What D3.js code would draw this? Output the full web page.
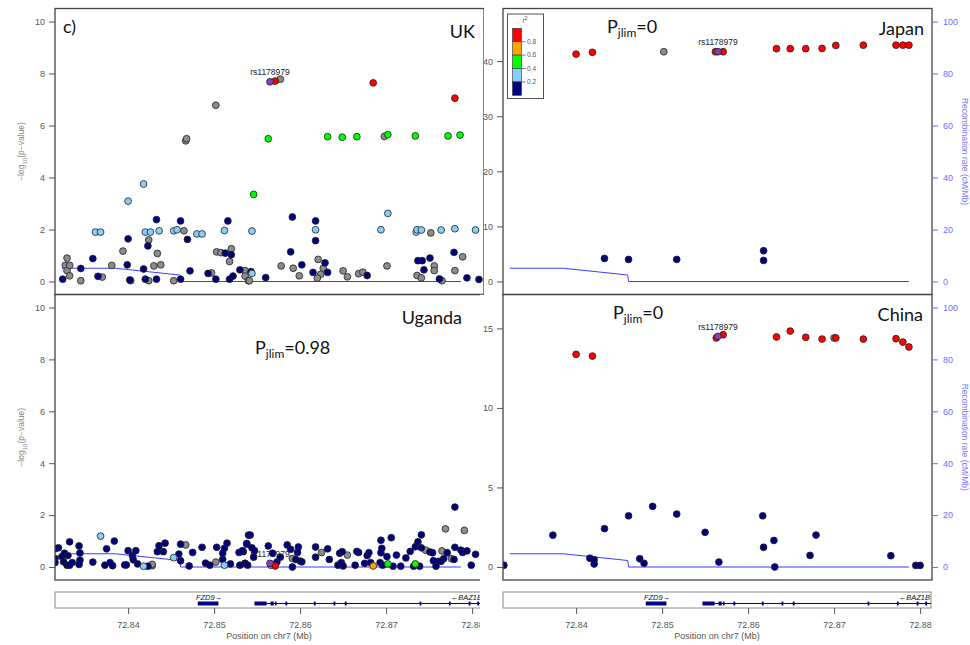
<!DOCTYPE html>
<html>
<head>
<meta charset="utf-8">
<script src="https://cdn.jsdelivr.net/npm/d3@7"></script>
<style>
  body { margin: 0; background: #fff; }
  svg { display: block; }
  text { font-family: "Liberation Sans", Arial, sans-serif; }
  .big { font-family: Lato, "Open Sans", sans-serif; }
</style>
</head>
<body>
<svg width="970" height="645"></svg>
<script>
// x range shown (Mb on chr7) and axis ticks
const xDomain = [72.8315, 72.8815];
const xTicks = [72.84, 72.85, 72.86, 72.87, 72.88];

// LD colour classes (r2)
const r2Breaks = [0.2, 0.4, 0.6, 0.8];
const r2Colors = ["#000080", "#87CEFA", "#00FF00", "#FFA500", "#FF0000"];
const r2Labels = ["0.2", "0.4", "0.6", "0.8"];
const noLdColor = "#8c8c8c";
const indexColor = "#7f3fbf";

// index SNP
const indexName = "rs1178979";
const indexPos = 72.8565;

// panel names and Pjlim values
const panelNames = ["UK", "Japan", "Uganda", "China"];
const pjlimValues = [null, "0", "0.98", "0"];
const indexLogP = [7.68, 41.7, 0.14, 14.5];

// SNPs: [position (Mb), -log10 p, r2 (null = no LD info)]
const ukSnps = [
  [72.8324,0.09,0.1],[72.8329,0.90,null],[72.8327,0.62,null],[72.8329,0.42,null],[72.8332,0.62,null],
  [72.8332,0.22,null],[72.8345,0.50,0.1],[72.8345,0.03,null],[72.8359,0.88,0.1],[72.8362,1.90,0.3],
  [72.8368,1.90,0.3],[72.8365,0.20,0.1],[72.8370,0.17,null],[72.8381,0.62,null],[72.8394,1.17,null],
  [72.8400,3.09,0.3],[72.8400,1.64,0.1],[72.8399,0.64,0.1],[72.8402,0.06,0.1],[72.8403,0.03,null],
  [72.8418,3.75,0.3],[72.8420,1.90,0.3],[72.8426,1.90,0.3],[72.8424,1.60,null],[72.8423,1.37,0.1],
  [72.8418,0.48,0.1],[72.8420,0.09,0.1],[72.8424,0.03,null],[72.8433,2.38,0.1],[72.8436,1.95,0.3],
  [72.8434,1.08,null],[72.8430,0.60,null],[72.8438,0.64,null],[72.8433,0.09,0.1],[72.8453,0.03,null],
  [72.8453,1.95,0.3],[72.8457,1.99,0.3],[72.8467,5.41,null],[72.8468,5.49,null],[72.8461,2.33,0.1],
  [72.8465,1.95,null],[72.8469,1.62,0.1],[72.8461,0.09,0.1],[72.8472,0.41,0.1],[72.8480,1.83,0.3],
  [72.8486,1.83,0.3],[72.8502,6.78,null],[72.8503,1.14,null],[72.8508,1.11,null],[72.8513,1.09,0.1],
  [72.8520,1.03,0.1],[72.8516,2.33,0.1],[72.8512,1.96,0.3],[72.8520,1.26,null],[72.8518,0.77,null],
  [72.8493,0.31,0.1],[72.8497,0.33,null],[72.8502,0.09,0.1],[72.8518,0.09,0.1],[72.8522,0.21,0.1],
  [72.8530,0.45,0.1],[72.8536,0.42,null],[72.8536,0.21,null],[72.8540,0.03,null],
  [72.8571,7.71,0.9],[72.8577,7.78,null],[72.8685,7.64,0.9],[72.8780,7.05,0.9],[72.8563,5.49,0.5],
  [72.8632,5.57,0.5],[72.8649,5.55,0.5],[72.8666,5.57,0.5],[72.8698,5.58,null],[72.8702,5.65,0.5],
  [72.8734,5.60,0.5],[72.8772,5.60,0.5],[72.8786,5.63,0.5],[72.8546,3.35,0.5],[72.8544,1.94,0.3],
  [72.8591,2.48,0.1],[72.8618,2.33,0.1],[72.8618,1.99,0.3],[72.8618,1.57,0.1],[72.8702,2.62,0.3],
  [72.8694,1.99,0.3],[72.8735,1.90,0.3],[72.8736,1.99,0.3],[72.8741,1.98,0.3],[72.8752,1.87,null],
  [72.8764,1.98,0.3],[72.8780,2.03,0.3],[72.8804,1.98,0.3],[72.8589,1.14,0.1],[72.8779,1.12,0.1],
  [72.8789,0.95,null],[72.8578,0.60,null],[72.8592,0.51,null],[72.8602,0.64,0.1],[72.8599,0.22,null],
  [72.8560,0.15,0.1],[72.8543,0.38,0.1],[72.8544,0.31,0.3],[72.8541,0.03,null],[72.8621,0.85,null],
  [72.8629,0.72,0.1],[72.8627,0.51,null],[72.8624,0.28,null],[72.8620,0.13,null],[72.8615,0.35,0.1],
  [72.8632,0.35,0.1],[72.8650,0.41,null],[72.8655,0.18,null],[72.8668,0.30,null],[72.8673,0.36,null],
  [72.8678,0.23,0.1],[72.8701,0.60,null],[72.8737,0.80,0.1],[72.8742,0.80,0.1],[72.8751,0.90,0.1],
  [72.8744,0.45,0.1],[72.8736,0.23,null],[72.8741,0.14,null],[72.8756,0.60,null],[72.8756,0.42,null],
  [72.8762,0.10,0.1],[72.8765,0.03,null],[72.8780,0.42,null],[72.8794,0.14,0.1],[72.8808,0.08,0.1]
];

const japanSnps = [
  [72.8400,41.27,0.9],[72.8419,41.6,0.9],[72.8502,41.7,null],[72.8562,41.7,0.9],[72.8571,41.7,0.9],
  [72.8433,4.18,0.1],[72.8461,4.0,0.1],[72.8517,4.0,0.1],[72.8633,42.25,0.9],[72.8649,42.25,0.9],
  [72.8667,42.25,0.9],[72.8686,42.3,0.9],[72.8702,42.85,0.9],[72.8734,42.9,0.9],[72.8772,42.9,0.9],
  [72.8780,42.9,0.9],[72.8787,42.9,0.9],[72.8618,5.58,0.1],[72.8618,3.82,0.1]
];

const ugandaSnps = [
  [72.8315,0.70,0.1],[72.8319,0.74,0.1],[72.8315,0.33,0.1],[72.8315,0.17,0.1],[72.8323,0.40,0.1],
  [72.8326,0.53,0.1],[72.8330,0.44,0.1],[72.8332,0.97,0.1],[72.8325,0.20,0.1],[72.8329,0.07,0.1],
  [72.8332,0.07,0.1],[72.8335,0.17,0.1],[72.8343,0.81,0.1],[72.8344,0.54,0.1],[72.8344,0.26,0.1],
  [72.8343,0.10,0.1],[72.8359,0.19,0.1],[72.8368,1.19,0.3],[72.8375,0.70,0.1],[72.8373,0.07,0.1],
  [72.8379,0.17,0.1],[72.8382,0.05,0.1],[72.8384,1.00,0.1],[72.8396,0.08,0.1],[72.8398,0.08,0.1],
  [72.8400,0.63,0.1],[72.8405,0.44,0.1],[72.8406,0.28,0.1],[72.8409,0.63,0.1],[72.8411,0.12,0.1],
  [72.8418,0.03,0.3],[72.8423,0.03,0.1],[72.8428,0.05,null],[72.8428,0.10,null],[72.8434,0.59,0.1],
  [72.8436,0.82,0.1],[72.8441,0.59,0.1],[72.8443,0.92,0.1],[72.8453,0.36,0.3],[72.8459,0.50,0.1],
  [72.8461,0.88,0.1],[72.8461,0.24,0.1],[72.8467,0.85,null],[72.8471,0.04,0.1],[72.8475,0.56,0.1],
  [72.8486,0.76,0.1],[72.8490,0.15,0.1],[72.8495,0.07,0.1],[72.8502,0.19,null],[72.8503,0.76,0.1],
  [72.8510,0.29,0.1],[72.8512,0.72,0.1],[72.8515,0.92,0.1],[72.8510,0.53,0.1],[72.8512,0.07,0.3],
  [72.8519,0.12,0.1],[72.8529,0.56,0.1],[72.8534,0.59,0.1],[72.8530,0.07,0.1],[72.8536,0.14,0.1],
  [72.8540,1.23,0.1],[72.8538,0.91,0.1],[72.8533,0.63,0.1],[72.8538,0.88,0.1],[72.8542,1.23,0.1],
  [72.8544,0.74,0.1],[72.8547,0.63,0.1],[72.8546,0.38,0.1],[72.8536,0.14,0.1],[72.8539,0.07,0.1],
  [72.8566,0.07,null],[72.8571,0.04,0.9],[72.8573,0.19,0.1],[72.8563,0.81,0.1],[72.8568,0.53,0.1],
  [72.8577,0.38,0.1],[72.8585,0.85,0.1],[72.8589,0.68,0.1],[72.8591,0.33,null],[72.8591,0.00,0.1],
  [72.8595,0.29,0.1],[72.8598,0.77,0.1],[72.8597,0.56,0.1],[72.8600,0.23,0.1],[72.8602,0.20,0.1],
  [72.8618,0.38,0.1],[72.8618,0.77,0.1],[72.8625,0.56,null],[72.8632,0.70,0.1],[72.8634,0.29,0.1],
  [72.8644,0.07,0.1],[72.8646,0.53,0.1],[72.8649,0.59,0.1],[72.8648,0.17,0.1],[72.8650,0.04,0.1],
  [72.8655,0.46,null],[72.8664,0.07,0.1],[72.8666,0.60,0.1],[72.8668,0.56,0.1],[72.8675,0.14,0.1],
  [72.8678,0.44,0.1],[72.8680,0.55,0.1],[72.8682,0.17,0.1],[72.8685,0.04,0.7],[72.8694,1.03,0.1],
  [72.8695,0.72,0.1],[72.8694,0.55,0.1],[72.8693,0.17,0.1],[72.8696,0.07,0.1],[72.8701,0.40,0.1],
  [72.8702,0.12,0.5],[72.8706,1.13,0.1],[72.8708,0.03,0.1],[72.8712,0.46,0.1],[72.8717,0.03,0.1],
  [72.8723,0.35,0.1],[72.8728,0.60,0.1],[72.8734,0.78,0.1],[72.8737,0.97,0.1],[72.8741,1.24,0.1],
  [72.8741,0.74,0.1],[72.8746,0.65,null],[72.8751,0.58,0.1],[72.8754,0.55,0.1],[72.8755,0.24,0.1],
  [72.8732,0.03,0.1],[72.8734,0.12,0.5],[72.8739,0.03,0.1],[72.8758,0.03,0.1],[72.8761,0.22,0.1],
  [72.8765,0.62,null],[72.8769,1.47,null],[72.8771,0.55,0.1],[72.8767,0.32,0.1],[72.8764,0.22,0.1],
  [72.8776,0.32,null],[72.8779,0.29,0.1],[72.8780,2.31,0.1],[72.8780,0.76,0.1],[72.8787,0.65,0.1],
  [72.8791,1.41,null],[72.8789,0.56,0.1],[72.8794,0.62,0.1],[72.8799,0.07,0.1],[72.8804,0.49,0.1]
];

const chinaSnps = [
  [72.8316,0.11,0.1],[72.8373,2.00,0.1],[72.8400,13.37,0.9],[72.8419,13.26,0.9],[72.8416,0.55,0.1],
  [72.8421,0.46,0.1],[72.8421,0.19,0.1],[72.8433,2.41,0.1],[72.8461,3.22,0.1],[72.8474,0.52,0.1],
  [72.8479,0.23,0.1],[72.8489,3.81,0.1],[72.8517,3.33,0.1],[72.8550,2.18,0.1],[72.8566,0.31,0.1],
  [72.8563,14.4,0.9],[72.8571,14.6,0.9],[72.8633,14.46,0.9],[72.8649,14.83,0.9],[72.8667,14.44,0.9],
  [72.8686,14.33,0.9],[72.8700,14.4,null],[72.8702,14.4,0.9],[72.8734,14.33,0.9],[72.8772,14.35,0.9],
  [72.8780,14.14,0.9],[72.8787,13.83,0.9],[72.8617,3.22,0.1],[72.8618,1.24,0.1],[72.8630,1.67,0.1],
  [72.8631,0.00,0.1],[72.8672,0.73,0.1],[72.8679,2.01,0.1],[72.8766,0.71,0.1],[72.8795,0.10,0.1],
  [72.8800,0.10,0.1]
];

// recombination rate (cM/Mb)
const recombPos = [72.8323, 72.8385, 72.8460, 72.8461, 72.8787];
const recombRate = [5.1, 5.1, 2.5, 0, 0];
const recombTicks = [0, 20, 40, 60, 80, 100];

// genes
const geneNames = ["FZD9", "BAZ1B"];
const geneStart = [72.8481, 72.8547];
const geneEnd = [72.8505, 72.8840];
const geneStrand = ["+", "-"];
const baz1bExons = [
  [72.8547, 72.8561], [72.85656, 72.85693], [72.85708, 72.85726], [72.8583, 72.8585],
  [72.8616, 72.8618], [72.8639, 72.8641], [72.8652, 72.8654], [72.8739, 72.8741],
  [72.8773, 72.8775], [72.8796, 72.8798], [72.8806, 72.8808]
];

const svg = d3.select("svg");
const defs = svg.append("defs");
const grey = "#555";

const ldColor = d3.scaleThreshold().domain(r2Breaks).range(r2Colors);

// the left half of the figure is cut off where the right half starts
const leftCut = defs.append("clipPath").attr("id", "leftCut");
leftCut.append("rect").attr("x", 0).attr("y", 0).attr("width", 484).attr("height", 294.5);
leftCut.append("rect").attr("x", 0).attr("y", 294.5).attr("width", 480).attr("height", 351);

const leftG = svg.append("g").attr("clip-path", "url(#leftCut)");
const rightG = svg.append("g");

const panels = [
  { snps: ukSnps, x0: 55, top: 8.5, bottom: 294.5, side: "left", yTicks: [0, 2, 4, 6, 8, 10], title: [475, 38], pj: null },
  { snps: japanSnps, x0: 503, top: 8.5, bottom: 294.5, side: "right", yTicks: [0, 10, 20, 30, 40], title: [924, 35], pj: [607, 33] },
  { snps: ugandaSnps, x0: 55, top: 294.5, bottom: 580, side: "left", yTicks: [0, 2, 4, 6, 8, 10], title: [462, 324], pj: [255, 354] },
  { snps: chinaSnps, x0: 503, top: 294.5, bottom: 580, side: "right", yTicks: [0, 5, 10, 15], title: [923, 321], pj: [613, 319] }
];
const plotW = 429;

function styleAxis(sel, color, size) {
  sel.select(".domain").remove();
  sel.selectAll(".tick line").attr("stroke", color);
  sel.selectAll(".tick text").attr("fill", color).attr("font-size", size)
    .attr("font-family", "'Liberation Sans', Arial, sans-serif");
}

panels.forEach((p, i) => {
  const g = (p.side === "left" ? leftG : rightG).append("g");
  const x = d3.scaleLinear().domain(xDomain).range([p.x0, p.x0 + 430]);
  const maxP = d3.max(p.snps, d => d[1]);
  const yMax = Math.max(10, 1.1 * Math.max(maxP, indexLogP[i]));
  const y = d3.scaleLinear().domain([0, yMax]).range([p.bottom - 13, p.top + 13]);
  const recY = d3.scaleLinear().domain([0, 100]).range([p.bottom - 13, p.top + 13]);

  const clipId = "plot" + i;
  defs.append("clipPath").attr("id", clipId).append("rect")
    .attr("x", p.x0).attr("y", p.top).attr("width", plotW).attr("height", p.bottom - p.top);
  const inner = g.append("g").attr("clip-path", `url(#${clipId})`);

  // recombination line
  inner.append("path")
    .datum(recombPos.map((d, k) => [d, recombRate[k]]))
    .attr("fill", "none").attr("stroke", "#3b3bff").attr("stroke-width", 1)
    .attr("d", d3.line().x(d => x(d[0])).y(d => recY(d[1])));

  // index SNP label
  inner.append("text")
    .attr("x", x(indexPos)).attr("y", y(indexLogP[i]) - 6.5)
    .attr("text-anchor", "middle").attr("font-size", 8.5).attr("fill", "#222")
    .text(indexName);

  // points: no-LD first, then by r2, index on top
  const pts = p.snps.map(d => ({ pos: d[0], lp: d[1], r2: d[2] }));
  pts.sort((a, b) => (a.r2 === null ? -1 : a.r2) - (b.r2 === null ? -1 : b.r2));
  pts.push({ pos: indexPos, lp: indexLogP[i], r2: "index" });
  inner.selectAll("circle").data(pts).enter().append("circle")
    .attr("cx", d => x(d.pos)).attr("cy", d => y(d.lp)).attr("r", 3.4)
    .attr("fill", d => d.r2 === "index" ? indexColor : d.r2 === null ? noLdColor : ldColor(d.r2))
    .attr("stroke", "#222").attr("stroke-width", 0.8);

  // frame
  g.append("rect").attr("x", p.x0).attr("y", p.top).attr("width", plotW).attr("height", p.bottom - p.top)
    .attr("fill", "none").attr("stroke", "#444").attr("stroke-width", 1.3);

  // left axis
  const ya = g.append("g").attr("transform", `translate(${p.x0},0)`)
    .call(d3.axisLeft(y).tickValues(p.yTicks).tickSize(6).tickPadding(4).tickFormat(d3.format("d")));
  styleAxis(ya, grey, 9);

  if (p.side === "left") {
    const mid = (p.top + p.bottom) / 2;
    const t = g.append("text").attr("transform", `translate(24,${mid}) rotate(-90)`)
      .attr("text-anchor", "middle").attr("font-size", 8.5).attr("fill", "#888");
    t.append("tspan").text("\u2212log");
    t.append("tspan").attr("font-size", 6).attr("dy", 2.5).text("10");
    t.append("tspan").attr("dy", -2.5).text("(p\u2212value)");
  } else {
    const ra = g.append("g").attr("transform", `translate(${p.x0 + plotW},0)`)
      .call(d3.axisRight(recY).tickValues(recombTicks).tickSize(6).tickPadding(5));
    styleAxis(ra, "#6b6bff", 9);
    const mid = (p.top + p.bottom) / 2;
    g.append("text").attr("transform", `translate(962,${mid}) rotate(90)`)
      .attr("text-anchor", "middle").attr("font-size", 8.5).attr("fill", "#7a7aff")
      .text("Recombination rate (cM/Mb)");
  }

  // panel name and Pjlim
  g.append("text").attr("class", "big").attr("x", p.title[0]).attr("y", p.title[1])
    .attr("text-anchor", "end").attr("font-size", 18).attr("fill", "#111").text(panelNames[i]);
  if (p.pj) {
    const t = g.append("text").attr("class", "big").attr("x", p.pj[0]).attr("y", p.pj[1])
      .attr("font-size", 18).attr("fill", "#111");
    t.append("tspan").text("P");
    t.append("tspan").attr("font-size", 12).attr("dy", 4).text("jlim");
    t.append("tspan").attr("dy", -4).text("=" + pjlimValues[i]);
  }
  if (i === 0) {
    g.append("text").attr("class", "big").attr("x", 63).attr("y", 33)
      .attr("font-size", 18).attr("fill", "#111").text("c)");
  }

  // gene track and x axis under the bottom panels
  if (p.top > 100) {
    const gy0 = 592, gy1 = 608;
    g.append("rect").attr("x", p.x0).attr("y", gy0).attr("width", 428).attr("height", gy1 - gy0)
      .attr("fill", "none").attr("stroke", "#888").attr("stroke-width", 1);
    const gid = "gene" + i;
    defs.append("clipPath").attr("id", gid).append("rect")
      .attr("x", p.x0).attr("y", gy0).attr("width", 428).attr("height", gy1 - gy0);
    const gg = g.append("g").attr("clip-path", `url(#${gid})`);
    // FZD9 (single block)
    gg.append("rect").attr("x", x(geneStart[0])).attr("y", 601.5)
      .attr("width", x(geneEnd[0]) - x(geneStart[0])).attr("height", 4).attr("fill", "#000080");
    gg.append("text").attr("x", (x(geneStart[0]) + x(geneEnd[0])) / 2 + 1).attr("y", 600)
      .attr("text-anchor", "middle").attr("font-size", 7.5).attr("font-style", "italic").attr("fill", "#111")
      .text(geneNames[0] + (geneStrand[0] === "+" ? "\u2192" : ""));
    // BAZ1B line with exons
    gg.append("line").attr("x1", x(geneStart[1])).attr("x2", x(geneEnd[1]))
      .attr("y1", 603.5).attr("y2", 603.5).attr("stroke", "#000080").attr("stroke-width", 1);
    gg.selectAll("rect.exon").data(baz1bExons).enter().append("rect").attr("class", "exon")
      .attr("x", d => x(d[0])).attr("y", 601.5)
      .attr("width", d => Math.max(1.5, x(d[1]) - x(d[0]))).attr("height", 4).attr("fill", "#000080");
    gg.append("text").attr("x", p.x0 + 427).attr("y", 600)
      .attr("text-anchor", "end").attr("font-size", 7.5).attr("font-style", "italic").attr("fill", "#111")
      .text((geneStrand[1] === "-" ? "\u2190" : "") + geneNames[1]);

    const xa = g.append("g").attr("transform", `translate(0,${gy1})`)
      .call(d3.axisBottom(x).tickValues(xTicks).tickSize(6).tickPadding(8).tickFormat(d3.format(".2f")));
    styleAxis(xa, grey, 9);
    g.append("text").attr("x", p.x0 + 214).attr("y", 639).attr("text-anchor", "middle")
      .attr("font-size", 9).attr("fill", grey).text("Position on chr7 (Mb)");
  }

  // r2 legend (Japan panel)
  if (i === 1) {
    const lg = g.append("g");
    lg.append("rect").attr("x", 507.5).attr("y", 14).attr("width", 36).attr("height", 84.5)
      .attr("fill", "#fff").attr("stroke", grey).attr("stroke-width", 1);
    const t = lg.append("text").attr("x", 525).attr("y", 23).attr("text-anchor", "middle")
      .attr("font-size", 7).attr("fill", grey);
    t.append("tspan").text("r");
    t.append("tspan").attr("font-size", 5).attr("dy", -3).text("2");
    const bh = 13.4;
    const lyTop = 28.3;
    r2Colors.slice().reverse().forEach((c, k) => {
      lg.append("rect").attr("x", 512.5).attr("y", lyTop + k * bh).attr("width", 9).attr("height", bh)
        .attr("fill", c).attr("stroke", "#333").attr("stroke-width", 0.6);
    });
    r2Labels.slice().reverse().forEach((l, k) => {
      const yy = lyTop + (k + 1) * bh;
      lg.append("line").attr("x1", 521.5).attr("x2", 525.5).attr("y1", yy).attr("y2", yy)
        .attr("stroke", grey).attr("stroke-width", 0.8);
      lg.append("text").attr("x", 527).attr("y", yy + 2.3).attr("font-size", 6.5).attr("fill", grey).text(l);
    });
  }
});
</script>
</body>
</html>
